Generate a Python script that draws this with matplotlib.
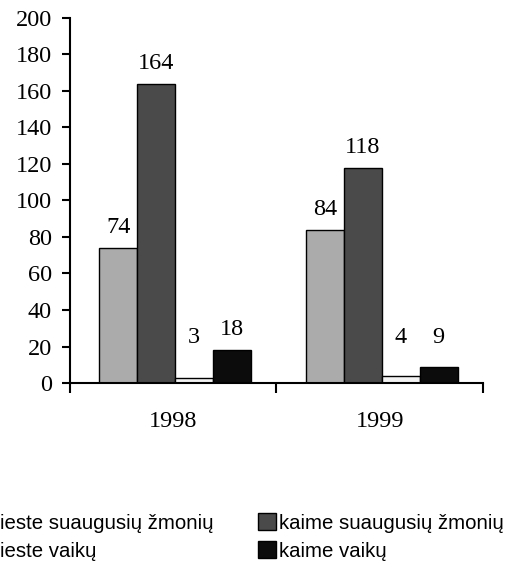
import matplotlib.pyplot as plt
import numpy as np

years = ['1998', '1999']
series_names = ['mieste suaugusių žmonių', 'kaime suaugusių žmonių',
                'mieste vaikų', 'kaime vaikų']
mieste_suaugusiu = [74, 84]
kaime_suaugusiu = [164, 118]
mieste_vaiku = [3, 4]
kaime_vaiku = [18, 9]

values = [mieste_suaugusiu, kaime_suaugusiu, mieste_vaiku, kaime_vaiku]
colors = ['#ababab', '#4a4a4a', '#f2f2f2', '#0c0c0c']

fig = plt.figure(figsize=(5.22, 5.66), dpi=100)
ax = fig.add_axes([0.134, 0.3233, 0.791, 0.645])

x = np.arange(len(years))
w = 0.184
handles = []
for i, (vals, c) in enumerate(zip(values, colors)):
    pos = x + (i - 1.5) * w + 0.01
    b = ax.bar(pos, vals, width=w, color=c, edgecolor='black', linewidth=1.0,
               label=series_names[i])
    handles.append(b)
    for px, v in zip(pos, vals):
        ax.annotate(str(v), (px, max(v, 14)), xytext=(0, 7), textcoords='offset points',
                    ha='center', va='bottom', family='Liberation Serif', fontsize=17.5)

ax.set_xlim(-0.5, 1.5)
ax.set_ylim(0, 200)
ax.set_yticks(np.arange(0, 201, 20))
ax.set_xticks(x)
ax.set_xticklabels(years)
ax.set_xticks([-0.5, 0.5, 1.5], minor=True)
ax.tick_params(axis='x', which='major', length=0, pad=20)
ax.tick_params(axis='x', which='minor', length=7, width=1.5, direction='out')
ax.tick_params(axis='y', length=6, width=1.5, direction='out', pad=7)
for lbl in ax.get_xticklabels() + ax.get_yticklabels():
    lbl.set_family('Liberation Serif')
    lbl.set_fontsize(17.5)

for s in ['top', 'right']:
    ax.spines[s].set_visible(False)
for s in ['left', 'bottom']:
    ax.spines[s].set_linewidth(1.5)

order = [0, 2, 1, 3]
fig.legend([handles[k] for k in order], [series_names[k] for k in order],
           ncol=2, loc='upper left', bbox_to_anchor=(-0.073, 0.093), frameon=False,
           prop={'family': 'Liberation Sans', 'size': 14.7},
           handlelength=0.88, handleheight=0.88, handletextpad=0.15,
           labelspacing=0.42, columnspacing=2.2, borderaxespad=0, borderpad=0)

fig.savefig('out.png', dpi=100)
